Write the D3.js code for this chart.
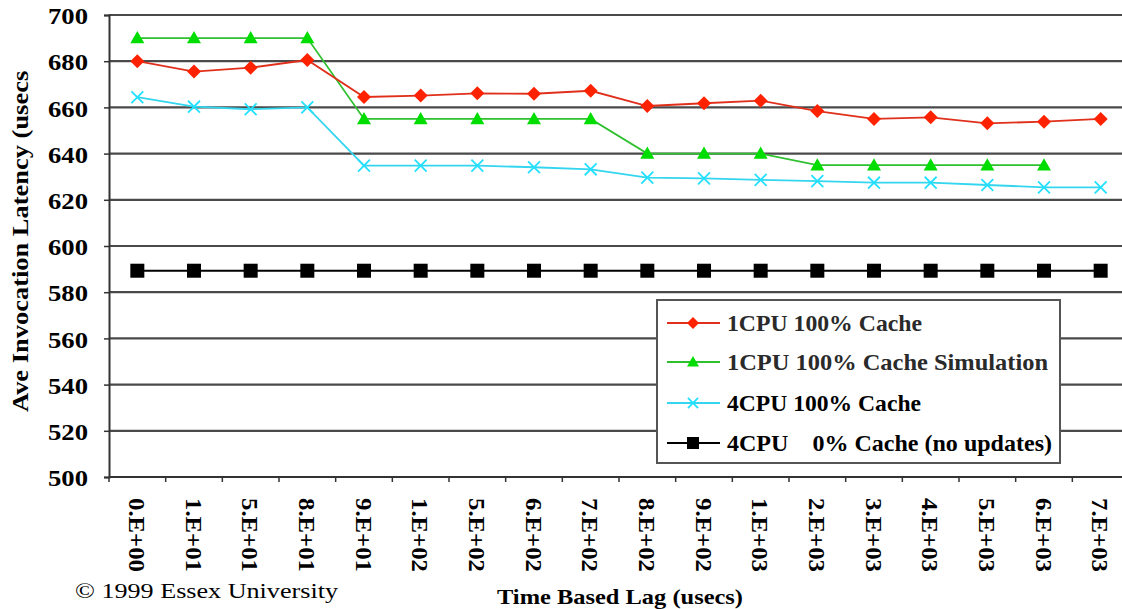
<!DOCTYPE html>
<html>
<head>
<meta charset="utf-8">
<script src="https://cdn.jsdelivr.net/npm/d3@7"></script>
<style>
  html, body { margin: 0; padding: 0; background: #fff; }
  svg { display: block; }
  text { font-family: "Liberation Serif", "Times New Roman", serif; }
</style>
</head>
<body>
<svg id="chart" width="1122" height="609"></svg>
<script>
const categories = ["0.E+00","1.E+01","5.E+01","8.E+01","9.E+01","1.E+02","5.E+02","6.E+02","7.E+02",
  "8.E+02","9.E+02","1.E+03","2.E+03","3.E+03","4.E+03","5.E+03","6.E+03","7.E+03"];
const cpu1Cache = [680,675.5,677.2,680.5,664.5,665.1,666.1,665.9,667.2,660.6,661.8,662.9,658.4,655,655.7,653.1,653.8,655];
const cpu1Sim   = [690,690,690,690,655,655,655,655,655,640,640,640,635,635,635,635,635,null];
const cpu4Cache = [664.4,660.3,659.2,660,634.8,634.8,634.8,634.1,633.2,629.6,629.3,628.6,628.1,627.4,627.4,626.4,625.4,625.4];
const cpu4NoCache = [589.3,589.3,589.3,589.3,589.3,589.3,589.3,589.3,589.3,589.3,589.3,589.3,589.3,589.3,589.3,589.3,589.3,589.3];
const yTicks = [500,520,540,560,580,600,620,640,660,680,700];
const seriesNames = ["1CPU 100% Cache","1CPU 100% Cache Simulation","4CPU 100% Cache","4CPU    0% Cache (no updates)"];

const series = [
  {name: seriesNames[0], values: cpu1Cache, line: "#e0301c", fill: "#ff2200", marker: "diamond"},
  {name: seriesNames[1], values: cpu1Sim, line: "#2ec02e", fill: "#00dd00", marker: "triangle"},
  {name: seriesNames[2], values: cpu4Cache, line: "#33d6ee", fill: "#22e0ff", marker: "x"},
  {name: seriesNames[3], values: cpu4NoCache, line: "#000000", fill: "#000000", marker: "square"}
];

const svg = d3.select("#chart");
const plotLeft = 109, plotRight = 1129, plotTop = 15, plotBottom = 477;
const x = d3.scaleBand().domain(categories).range([plotLeft, plotRight]).padding(0);
const y = d3.scaleLinear().domain([500, 700]).range([plotBottom, plotTop]);
const cx = c => x(c) + x.bandwidth() / 2;

// clip for the y title (top of it is cut in the original)
svg.append("defs").append("clipPath").attr("id", "ytclip")
  .append("rect").attr("x", 0).attr("y", 71).attr("width", 60).attr("height", 400);

// gridlines
svg.append("g").selectAll("line").data(yTicks.filter(v => v > 500)).join("line")
  .attr("x1", plotLeft).attr("x2", 1122).attr("y1", d => y(d)).attr("y2", d => y(d))
  .attr("stroke", "#4a4a4a").attr("stroke-width", 2.2);

// y axis
const yAxis = svg.append("g").attr("transform", `translate(${plotLeft},0)`)
  .call(d3.axisLeft(y).tickValues(yTicks).tickSize(5).tickPadding(16).tickFormat(d3.format("d")));
yAxis.select(".domain").attr("stroke", "#333").attr("stroke-width", 2);
yAxis.selectAll(".tick line").attr("stroke", "#333").attr("stroke-width", 1.5);
yAxis.selectAll(".tick text").attr("font-size", 23).attr("font-weight", "bold")
  .attr("fill", "#000").attr("textLength", 40).attr("lengthAdjust", "spacingAndGlyphs")
  .attr("dy", "0.38em");

// x axis
svg.append("line").attr("x1", plotLeft).attr("x2", 1122).attr("y1", plotBottom).attr("y2", plotBottom)
  .attr("stroke", "#333").attr("stroke-width", 2);
svg.append("g").selectAll("line").data(categories).join("line")
  .attr("x1", d => x(d)).attr("x2", d => x(d)).attr("y1", plotBottom).attr("y2", plotBottom + 5)
  .attr("stroke", "#333").attr("stroke-width", 1.5);
svg.append("g").selectAll("text").data(categories).join("text")
  .attr("transform", d => `translate(${cx(d)},498) rotate(90)`)
  .attr("dy", "0.35em").attr("text-anchor", "start")
  .attr("textLength", 74).attr("lengthAdjust", "spacingAndGlyphs")
  .attr("font-size", 24).attr("font-weight", "bold").text(d => d);

// axis titles
svg.append("g").attr("clip-path", "url(#ytclip)")
  .append("text").attr("transform", "translate(28,412) rotate(-90)")
  .attr("text-anchor", "start").attr("font-size", 23).attr("font-weight", "bold")
  .attr("textLength", 350).attr("lengthAdjust", "spacingAndGlyphs")
  .text("Ave Invocation Latency (usecs)");
svg.append("text").attr("x", 497).attr("y", 604)
  .attr("font-size", 22).attr("font-weight", "bold")
  .attr("textLength", 246).attr("lengthAdjust", "spacingAndGlyphs")
  .text("Time Based Lag (usecs)");
svg.append("text").attr("x", 75).attr("y", 598).attr("font-size", 22)
  .attr("textLength", 263).attr("lengthAdjust", "spacingAndGlyphs")
  .text("\u00A9 1999 Essex University");

function drawMarker(g, type, color, px, py, s) {
  if (type === "diamond") {
    g.append("path").attr("d", `M${px},${py-s}L${px+s},${py}L${px},${py+s}L${px-s},${py}Z`).attr("fill", color);
  } else if (type === "triangle") {
    g.append("path").attr("d", `M${px},${py-s}L${px+s},${py+s*0.75}L${px-s},${py+s*0.75}Z`).attr("fill", color);
  } else if (type === "x") {
    const r = s * 0.85;
    g.append("path").attr("d", `M${px-r},${py-r}L${px+r},${py+r}M${px-r},${py+r}L${px+r},${py-r}`)
      .attr("stroke", color).attr("stroke-width", 1.8).attr("fill", "none");
  } else {
    g.append("rect").attr("x", px - s).attr("y", py - s).attr("width", 2 * s).attr("height", 2 * s).attr("fill", color);
  }
}

const line = d3.line().defined(d => d.v !== null).x(d => cx(d.c)).y(d => y(d.v));
series.slice().reverse().forEach(s => {
  const pts = categories.map((c, i) => ({c, v: s.values[i]}));
  svg.append("path").datum(pts).attr("d", line).attr("fill", "none")
    .attr("stroke", s.line).attr("stroke-width", s.marker === "square" ? 2 : 1.8);
  const g = svg.append("g");
  pts.filter(p => p.v !== null).forEach(p => drawMarker(g, s.marker, s.fill, cx(p.c), y(p.v), 7));
});

// legend
const lg = svg.append("g");
lg.append("rect").attr("x", 657).attr("y", 300).attr("width", 403).attr("height", 163)
  .attr("fill", "#fff").attr("stroke", "#555").attr("stroke-width", 2);
const rowY = [323, 362, 403, 443];
const legendLen = [195, 321, 194, 325];
series.forEach((s, i) => {
  lg.append("line").attr("x1", 667).attr("x2", 720).attr("y1", rowY[i]).attr("y2", rowY[i])
    .attr("stroke", s.line).attr("stroke-width", 2);
  drawMarker(lg, s.marker, s.fill, 693, rowY[i], 6);
  lg.append("text").attr("x", 727).attr("y", rowY[i]).attr("dy", "0.35em")
    .attr("font-size", 23).attr("font-weight", "bold").attr("fill", i < 2 ? "#2a2a2a" : "#000")
    .attr("textLength", legendLen[i]).attr("lengthAdjust", "spacingAndGlyphs")
    .style("white-space", "pre").text(s.name);
});
</script>
</body>
</html>
